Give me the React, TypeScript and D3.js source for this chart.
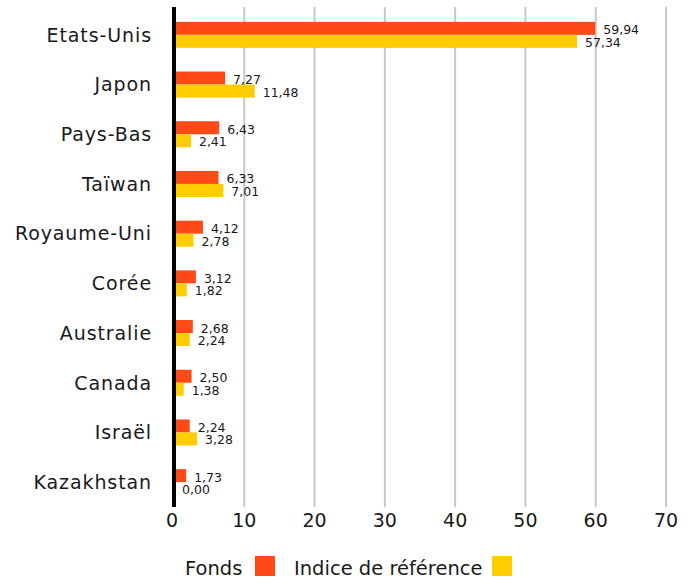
import { useEffect, useRef } from "react"
import * as d3 from "d3"

// Chart data
const countries = [
  "Etats-Unis",
  "Japon",
  "Pays-Bas",
  "Taïwan",
  "Royaume-Uni",
  "Corée",
  "Australie",
  "Canada",
  "Israël",
  "Kazakhstan",
]
const fonds = [59.94, 7.27, 6.43, 6.33, 4.12, 3.12, 2.68, 2.5, 2.24, 1.73]
const indice = [57.34, 11.48, 2.41, 7.01, 2.78, 1.82, 2.24, 1.38, 3.28, 0.0]
const ticks = [0, 10, 20, 30, 40, 50, 60, 70]

const ORANGE = "#ff4a17"
const YELLOW = "#ffcc00"
const FONT = "'DejaVu Sans', sans-serif"

const fmt = (v: number) => v.toFixed(2).replace(".", ",")

const App = () => {
  const svgRef = useRef<SVGSVGElement>(null)

  useEffect(() => {
    if (!svgRef.current) return
    const svg = d3.select(svgRef.current)
    svg.selectAll("*").remove()

    const x = d3.scaleLinear().domain([0, 70]).range([174, 666])
    const y = d3.scaleBand<string>().domain(countries).range([10, 507])
    const barH = 13
    const top = 7
    const bottom = 507

    // grid lines
    svg
      .append("g")
      .selectAll("line")
      .data(ticks.slice(1))
      .join("line")
      .attr("x1", (d) => x(d))
      .attr("x2", (d) => x(d))
      .attr("y1", top)
      .attr("y2", bottom)
      .attr("stroke", "#c8c8c8")
      .attr("stroke-width", 2)

    // tick labels
    svg
      .append("g")
      .selectAll("text")
      .data(ticks)
      .join("text")
      .attr("x", (d) => x(d) - (d === 0 ? 2 : 0))
      .attr("y", 527)
      .attr("text-anchor", "middle")
      .attr("font-family", FONT)
      .attr("font-size", 19)
      .attr("fill", "#1a1a1a")
      .text((d) => d)

    const rows = countries.map((c, i) => ({ c, f: fonds[i], r: indice[i] }))
    const center = (c: string) => (y(c) ?? 0) + y.bandwidth() / 2

    // bars
    svg
      .append("g")
      .selectAll("rect")
      .data(rows)
      .join("rect")
      .attr("x", x(0))
      .attr("y", (d) => center(d.c) - barH)
      .attr("width", (d) => x(d.f) - x(0))
      .attr("height", barH)
      .attr("fill", ORANGE)

    svg
      .append("g")
      .selectAll("rect")
      .data(rows)
      .join("rect")
      .attr("x", x(0))
      .attr("y", (d) => center(d.c))
      .attr("width", (d) => x(d.r) - x(0))
      .attr("height", barH)
      .attr("fill", YELLOW)

    // value labels
    const lab = svg.append("g").attr("font-family", FONT).attr("font-size", 12.5).attr("fill", "#1a1a1a")
    lab
      .selectAll("text.f")
      .data(rows)
      .join("text")
      .attr("class", "f")
      .attr("x", (d) => x(d.f) + 8)
      .attr("y", (d) => center(d.c) - 0.5)
      .text((d) => fmt(d.f))
    lab
      .selectAll("text.r")
      .data(rows)
      .join("text")
      .attr("class", "r")
      .attr("x", (d) => x(d.r) + 8)
      .attr("y", (d) => center(d.c) + barH - 1)
      .text((d) => fmt(d.r))

    // zero axis
    svg
      .append("line")
      .attr("x1", x(0))
      .attr("x2", x(0))
      .attr("y1", top)
      .attr("y2", bottom)
      .attr("stroke", "#000")
      .attr("stroke-width", 4)

    // category labels
    svg
      .append("g")
      .selectAll("text")
      .data(countries)
      .join("text")
      .attr("x", 152)
      .attr("y", (d) => center(d))
      .attr("dy", "0.36em")
      .attr("text-anchor", "end")
      .attr("font-family", FONT)
      .attr("font-size", 19)
      .attr("letter-spacing", 0.9)
      .attr("fill", "#1a1a1a")
      .text((d) => d)

    // legend
    const legend = svg.append("g").attr("font-family", FONT).attr("font-size", 19.5).attr("fill", "#1a1a1a")
    legend.append("text").attr("x", 185).attr("y", 575).text("Fonds")
    legend.append("rect").attr("x", 255).attr("y", 556).attr("width", 20).attr("height", 20).attr("fill", ORANGE)
    legend.append("text").attr("x", 294).attr("y", 575).text("Indice de référence")
    legend.append("rect").attr("x", 492).attr("y", 556).attr("width", 20).attr("height", 20).attr("fill", YELLOW)
  }, [])

  return (
    <svg
      ref={svgRef}
      width={695}
      height={583}
      style={{ position: "absolute", left: 0, top: 0, background: "#fff" }}
    />
  )
}

export default App
